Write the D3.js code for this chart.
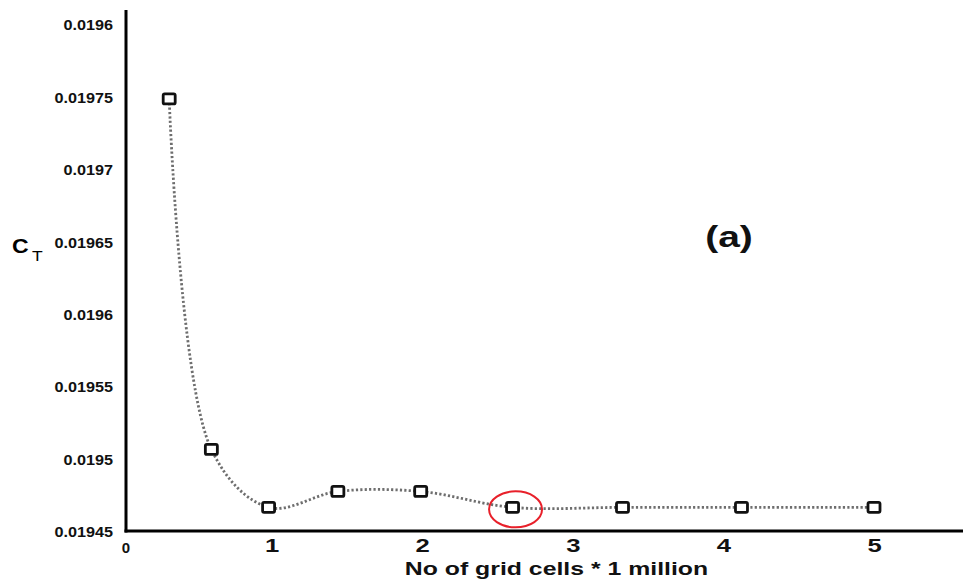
<!DOCTYPE html>
<html>
<head>
<meta charset="utf-8">
<script src="https://cdn.jsdelivr.net/npm/d3@7"></script>
<style>
  html, body { margin: 0; padding: 0; background: #fff; }
  svg { display: block; font-family: "Liberation Sans", Arial, sans-serif; }
</style>
</head>
<body>
<svg id="chart" width="963" height="581"></svg>
<script>
// Grid-convergence study: thrust coefficient against mesh size
const gridCells = [0.32, 0.60, 0.98, 1.44, 1.99, 2.60, 3.33, 4.12, 5.0];   // million cells
const ctValues  = [0.019749, 0.019507, 0.019467, 0.019478, 0.019478, 0.019467, 0.019467, 0.019467, 0.019467];
const chosenIndex = 5;   // mesh selected for the study (circled)

const yTickValues = [0.01945, 0.0195, 0.01955, 0.0196, 0.01965, 0.0197, 0.01975, 0.0198];
const yTickLabels = ["0.01945", "0.0195", "0.01955", "0.0196", "0.01965", "0.0197", "0.01975", "0.0196"];
const xTickValues = [0, 1, 2, 3, 4, 5];
const xTickLabels = ["0", "1", "2", "3", "4", "5"];

const svg = d3.select("#chart");
const W = 963, H = 581;
const plotLeft = 126, plotRight = W, plotTop = 10, plotBottom = 531;

const x = d3.scaleLinear().domain([0, 5]).range([121, 874]);
const y = d3.scaleLinear().domain([0.01945, 0.0198]).range([532, 25]);

// widen text horizontally by a factor, keeping its anchor
function widen(sel, factor) {
  sel.each(function () {
    const w = this.getComputedTextLength();
    d3.select(this).attr("textLength", w * factor).attr("lengthAdjust", "spacingAndGlyphs");
  });
}

// Y axis labels
const yAxis = d3.axisLeft(y)
  .tickValues(yTickValues)
  .tickFormat((d, i) => yTickLabels[i])
  .tickSize(0)
  .tickPadding(13);
const gy = svg.append("g").attr("transform", `translate(${plotLeft},0)`).call(yAxis);
gy.select(".domain").remove();
gy.selectAll("text")
  .attr("font-family", "Liberation Sans, Arial, sans-serif")
  .attr("font-size", 15)
  .attr("font-weight", "bold")
  .attr("fill", "#111")
  .call(widen, 1.08);

// X axis labels
const xAxis = d3.axisBottom(x)
  .tickValues(xTickValues)
  .tickFormat((d, i) => xTickLabels[i])
  .tickSize(0);
const gx = svg.append("g").attr("transform", `translate(0,${plotBottom})`).call(xAxis);
gx.select(".domain").remove();
gx.selectAll(".tick").filter(d => d === 0).attr("transform", `translate(${plotLeft},0)`);
gx.selectAll("text")
  .attr("font-family", "Liberation Sans, Arial, sans-serif")
  .attr("font-size", d => d === 0 ? 15 : 19)
  .attr("font-weight", "bold")
  .attr("fill", "#111")
  .attr("dy", 0)
  .attr("y", d => d === 0 ? 22 : 21);
gx.selectAll("text").filter(d => d !== 0).call(widen, 1.35);

// Axis lines
svg.append("line")
  .attr("x1", plotLeft).attr("x2", plotLeft)
  .attr("y1", plotTop).attr("y2", plotBottom + 1.5)
  .attr("stroke", "#000").attr("stroke-width", 3);
svg.append("line")
  .attr("x1", plotLeft - 1.5).attr("x2", plotRight)
  .attr("y1", plotBottom).attr("y2", plotBottom)
  .attr("stroke", "#000").attr("stroke-width", 3);

// Smooth dotted trend line through the points
const pts = gridCells.map((g, i) => [g, ctValues[i]]);
const line = d3.line()
  .x(d => x(d[0]))
  .y(d => y(d[1]))
  .curve(d3.curveCatmullRom.alpha(0.5));
svg.append("path")
  .attr("d", line(pts))
  .attr("fill", "none")
  .attr("stroke", "#6e6e6e")
  .attr("stroke-width", 2.8)
  .attr("stroke-dasharray", "2.2,2.2");

// Square markers
svg.append("g").selectAll("rect")
  .data(pts)
  .join("rect")
  .attr("x", d => x(d[0]) - 6)
  .attr("y", d => y(d[1]) - 5)
  .attr("width", 12)
  .attr("height", 10)
  .attr("rx", 1.5)
  .attr("fill", "#fff")
  .attr("stroke", "#111")
  .attr("stroke-width", 2.8);

// Highlight of the chosen mesh
svg.append("ellipse")
  .attr("cx", x(gridCells[chosenIndex]) + 3)
  .attr("cy", y(ctValues[chosenIndex]) + 2)
  .attr("rx", 26.5)
  .attr("ry", 18)
  .attr("fill", "none")
  .attr("stroke", "#e8202a")
  .attr("stroke-width", 2);

// Panel tag
svg.append("text")
  .attr("x", 729).attr("y", 247)
  .attr("text-anchor", "middle")
  .attr("font-size", 30)
  .attr("font-weight", "bold")
  .attr("fill", "#111")
  .text("(a)")
  .call(widen, 1.3);

// Y axis title C_T
svg.append("text").attr("x", 12).attr("y", 253)
  .attr("font-size", 20).attr("font-weight", "bold").attr("fill", "#000")
  .text("C").call(widen, 1.15);
svg.append("text").attr("x", 32).attr("y", 261)
  .attr("font-size", 14).attr("fill", "#000")
  .text("T").call(widen, 1.25);

// X axis title
svg.append("text")
  .attr("x", 556.5).attr("y", 575)
  .attr("text-anchor", "middle")
  .attr("font-size", 19)
  .attr("font-weight", "bold")
  .attr("fill", "#111")
  .text("No of grid cells * 1 million")
  .call(widen, 1.306);
</script>
</body>
</html>
